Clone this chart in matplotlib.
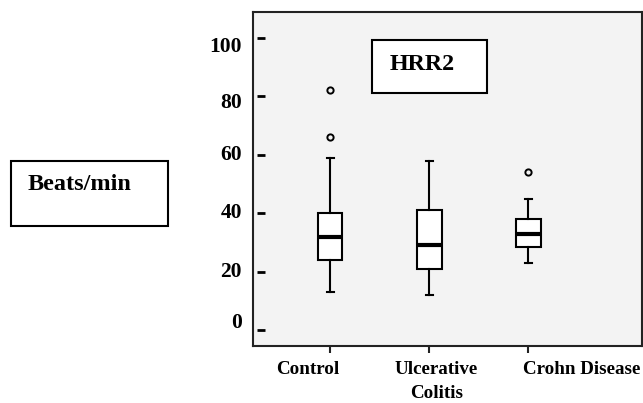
import matplotlib
matplotlib.use("Agg")
import matplotlib.pyplot as plt
import matplotlib.transforms as mtransforms

# ---- data ----
categories = ["Control", "Ulcerative\nColitis", "Crohn Disease"]
medians = [32, 29, 33]
q1s = [24, 21, 28.5]
q3s = [40, 41, 38]
whis_lo = [13, 12, 23]
whis_hi = [59, 58, 45]
fliers = [[66, 82], [], [54]]
y_ticks = [0, 20, 40, 60, 80, 100]
title_text = "HRR2"
ylabel_text = "Beats/min"

SERIF = ["Liberation Serif", "DejaVu Serif"]

fig = plt.figure(figsize=(6.43, 4.03), dpi=100)
ax = fig.add_axes([0.393, 0.142, 0.605, 0.827])
ax.set_facecolor("#f3f3f3")

stats = []
for i in range(len(categories)):
    stats.append(dict(med=medians[i], q1=q1s[i], q3=q3s[i],
                      whislo=whis_lo[i], whishi=whis_hi[i],
                      fliers=fliers[i], label=categories[i]))

positions = list(range(1, len(categories) + 1))
ax.bxp(stats, positions=positions, widths=0.25, patch_artist=True,
       capwidths=0.07,
       boxprops=dict(facecolor="white", edgecolor="black", linewidth=1.5),
       medianprops=dict(color="black", linewidth=3),
       whiskerprops=dict(color="black", linewidth=1.5),
       capprops=dict(color="black", linewidth=1.5),
       flierprops=dict(marker="o", markersize=4.5, markerfacecolor="none",
                       markeredgecolor="black", markeredgewidth=1.4))

ax.set_xlim(0.219, 4.146)
ax.set_ylim(-5.4, 108.7)

for s in ax.spines.values():
    s.set_linewidth(1.5)
    s.set_color("#222222")

# x ticks: marks only, labels drawn separately (offset as in reference)
ax.set_xticks(positions)
ax.set_xticklabels([])
ax.tick_params(axis="x", direction="out", length=5, width=1.5, color="#222222")
label_dx_px = [-22, 7, 53]
for p, lab, dx in zip(positions, categories, label_dx_px):
    tr = ax.get_xaxis_transform() + mtransforms.ScaledTranslation(dx / 100, 0, fig.dpi_scale_trans)
    ax.text(p, -0.045, lab, transform=tr, ha="center", va="top",
            family=SERIF, fontweight="bold", fontsize=13.7, linespacing=1.55)

# y ticks: small dashes inside axes, labels offset to the left
ax.set_yticks([])
tick_tr = mtransforms.blended_transform_factory(ax.transAxes, ax.transData)
ax.plot([0.0205] * len(y_ticks), y_ticks, linestyle="none", marker="_",
        markersize=6, markeredgewidth=2, color="black", transform=tick_tr, clip_on=False)
label_dy_px = [7, 0, 0, 0, -7, -9]
for v, dy in zip(y_ticks, label_dy_px):
    tr = tick_tr + mtransforms.ScaledTranslation(0, dy / 100, fig.dpi_scale_trans)
    ax.text(-0.028, v, str(v), transform=tr, ha="right", va="center",
            family=SERIF, fontweight="bold", fontsize=15.5)

# title box
fig.patches.append(matplotlib.patches.Rectangle(
    (371.7 / 643, 1 - 92.7 / 403), 115 / 643, 52.7 / 403,
    transform=fig.transFigure, facecolor="white", edgecolor="black",
    linewidth=1.5, zorder=0.5))
fig.text(422 / 643, 1 - 65 / 403, title_text, ha="center", va="center",
         family=SERIF, fontweight="bold", fontsize=17.3, zorder=5)

# y label box
fig.patches.append(matplotlib.patches.Rectangle(
    (10.7 / 643, 1 - 225.7 / 403), 157.6 / 643, 65 / 403,
    transform=fig.transFigure, facecolor="white", edgecolor="black",
    linewidth=1.5, zorder=0.5))
fig.text(28 / 643, 1 - 184 / 403, ylabel_text, ha="left", va="center",
         family=SERIF, fontweight="bold", fontsize=17.5, zorder=5)

fig.savefig("out.png", dpi=100)
